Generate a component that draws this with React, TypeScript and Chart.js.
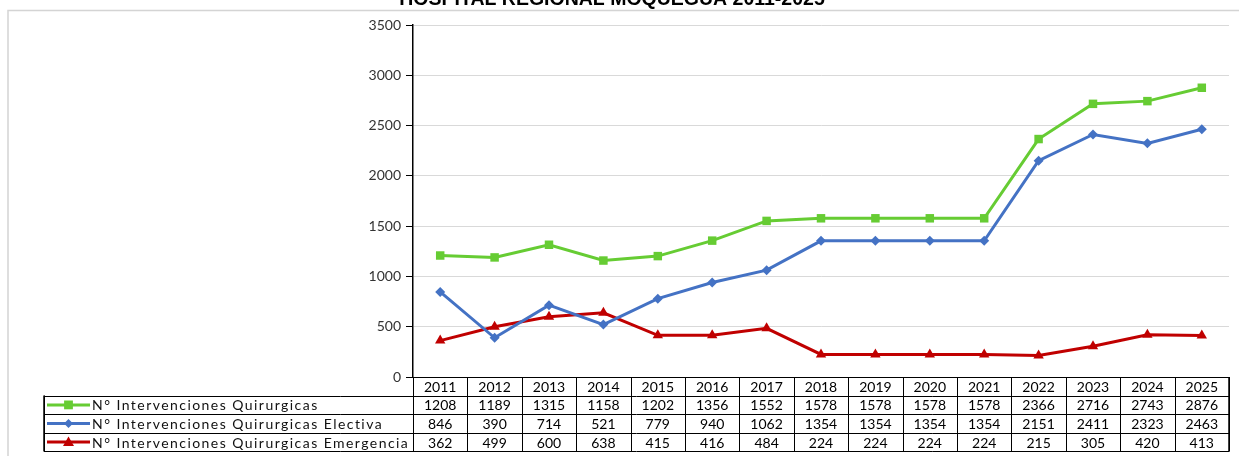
import React, { useEffect, useRef } from "react";
import { Chart, registerables } from "chart.js";

Chart.register(...registerables);

const years = ["2011","2012","2013","2014","2015","2016","2017","2018","2019","2020","2021","2022","2023","2024","2025"];
const totalSeries = [1208,1189,1315,1158,1202,1356,1552,1578,1578,1578,1578,2366,2716,2743,2876];
const electivaSeries = [846,390,714,521,779,940,1062,1354,1354,1354,1354,2151,2411,2323,2463];
const emergenciaSeries = [362,499,600,638,415,416,484,224,224,224,224,215,305,420,413];
const seriesNames = [
  "N° Intervenciones Quirurgicas",
  "N° Intervenciones Quirurgicas Electiva",
  "N° Intervenciones Quirurgicas Emergencia",
];
const yTicks = [0, 500, 1000, 1500, 2000, 2500, 3000, 3500];
const titleText = "HOSPITAL REGIONAL MOQUEGUA 2011-2025";

const GREEN = "#66cc33";
const BLUE = "#4472c4";
const RED = "#c00000";

function drawMarker(ctx: CanvasRenderingContext2D, style: string, x: number, y: number, r: number) {
  ctx.beginPath();
  if (style === "rect") {
    ctx.rect(x - r * 0.8, y - r * 0.8, r * 1.6, r * 1.6);
  } else if (style === "rectRot") {
    ctx.moveTo(x, y - r);
    ctx.lineTo(x + r, y);
    ctx.lineTo(x, y + r);
    ctx.lineTo(x - r, y);
    ctx.closePath();
  } else {
    ctx.moveTo(x, y - r);
    ctx.lineTo(x + r, y + r * 0.7);
    ctx.lineTo(x - r, y + r * 0.7);
    ctx.closePath();
  }
  ctx.fill();
}

const overlayPlugin = {
  id: "overlay",
  afterDraw(chart: any) {
    const ctx = chart.ctx;
    const area = chart.chartArea;
    const W = chart.width;
    ctx.save();
    // outer chart border
    ctx.strokeStyle = "#d4d4d4";
    ctx.lineWidth = 1.5;
    ctx.beginPath();
    ctx.moveTo(8, 456);
    ctx.lineTo(8, 10.5);
    ctx.lineTo(W, 10.5);
    ctx.stroke();
    // title
    ctx.fillStyle = "#000";
    ctx.font = "bold 19.5px 'Liberation Sans', Arial, sans-serif";
    ctx.textAlign = "center";
    ctx.textBaseline = "alphabetic";
    ctx.fillText(titleText, 612, 5);

    // data table
    const n = years.length;
    const colW = (area.right - area.left) / n;
    const top = area.bottom;
    const rowH = 18.6;
    const legendLeft = 44;
    const rows = [totalSeries, electivaSeries, emergenciaSeries];
    const colors = [GREEN, BLUE, RED];
    const styles = ["rect", "rectRot", "triangle"];
    const bottom = top + rowH * 4;
    ctx.strokeStyle = "#000";
    ctx.lineWidth = 1;
    ctx.beginPath();
    ctx.moveTo(area.left, top + 0.5);
    ctx.lineTo(area.right, top + 0.5);
    for (let r = 1; r <= 4; r++) {
      const y = Math.round(top + rowH * r) + 0.5;
      ctx.moveTo(legendLeft, y);
      ctx.lineTo(area.right, y);
    }
    for (let c = 0; c <= n; c++) {
      const x = Math.round(area.left + colW * c) + 0.5;
      ctx.moveTo(x, top);
      ctx.lineTo(x, bottom);
    }
    ctx.moveTo(legendLeft + 0.5, top + rowH);
    ctx.lineTo(legendLeft + 0.5, bottom);
    ctx.stroke();
    ctx.lineWidth = 1.5;
    ctx.beginPath();
    ctx.moveTo(area.right, top);
    ctx.lineTo(area.right, bottom);
    ctx.moveTo(legendLeft, top + rowH);
    ctx.lineTo(legendLeft, bottom);
    ctx.stroke();

    ctx.font = "14px Lato, sans-serif";
    ctx.fillStyle = "#000";
    ctx.textAlign = "center";
    ctx.textBaseline = "middle";
    for (let c = 0; c < n; c++) {
      const cx = area.left + colW * (c + 0.5);
      ctx.fillText(years[c], cx, top + rowH * 0.5 + 1);
      for (let r = 0; r < 3; r++) {
        ctx.fillText(String(rows[r][c]), cx, top + rowH * (r + 1.5) + 1);
      }
    }
    for (let r = 0; r < 3; r++) {
      const cy = top + rowH * (r + 1.5);
      ctx.strokeStyle = colors[r];
      ctx.lineWidth = 3;
      ctx.beginPath();
      ctx.moveTo(47, cy);
      ctx.lineTo(90, cy);
      ctx.stroke();
      ctx.fillStyle = colors[r];
      drawMarker(ctx, styles[r], 68.5, cy, r === 1 ? 4.5 : 5.5);
      ctx.fillStyle = "#111";
      ctx.font = "14px Lato, sans-serif";
      (ctx as any).letterSpacing = "1.45px";
      ctx.textAlign = "left";
      ctx.fillText(seriesNames[r], 92, cy + 1);
      (ctx as any).letterSpacing = "0px";
    }
    ctx.restore();
  },
};

export default function App() {
  const ref = useRef<HTMLCanvasElement | null>(null);
  useEffect(() => {
    if (!ref.current) return;
    const chart = new Chart(ref.current, {
      type: "line",
      data: {
        labels: years,
        datasets: [
          {
            label: seriesNames[0],
            data: totalSeries,
            borderColor: GREEN,
            backgroundColor: GREEN,
            borderWidth: 3,
            pointStyle: "rect",
            pointRadius: 6,
            pointBorderWidth: 0,
            tension: 0,
          },
          {
            label: seriesNames[1],
            data: electivaSeries,
            borderColor: BLUE,
            backgroundColor: BLUE,
            borderWidth: 3,
            pointStyle: "rectRot",
            pointRadius: 5,
            pointBorderWidth: 0,
            tension: 0,
          },
          {
            label: seriesNames[2],
            data: emergenciaSeries,
            borderColor: RED,
            backgroundColor: RED,
            borderWidth: 3,
            pointStyle: "triangle",
            pointRadius: 6,
            pointBorderWidth: 0,
            tension: 0,
          },
        ],
      },
      options: {
        responsive: false,
        animation: false,
        layout: { padding: { left: 0, right: 10, top: 25, bottom: 79 } },
        plugins: { legend: { display: false }, title: { display: false }, tooltip: { enabled: false } },
        scales: {
          x: { type: "category", offset: true, display: false, grid: { offset: true } },
          y: {
            min: 0,
            max: 3500,
            afterBuildTicks: (scale: any) => {
              scale.ticks = yTicks.map((v) => ({ value: v }));
            },
            afterFit: (scale: any) => {
              scale.width = 413;
            },
            border: { display: true, color: "#000", width: 1.5 },
            grid: {
              color: "#d9d9d9",
              lineWidth: 1,
              tickColor: "#000",
              tickLength: 7,
              drawTicks: true,
            },
            ticks: {
              padding: 5,
              color: "#333",
              font: { family: "Lato, sans-serif", size: 14 },
              callback: (v: any) => String(v),
            },
          },
        },
      },
      plugins: [overlayPlugin],
    });
    return () => chart.destroy();
  }, []);
  return (
    <div style={{ position: "fixed", left: 0, top: 0, width: 1239, height: 456, background: "#fff" }}>
      <canvas ref={ref} width={1239} height={456} style={{ display: "block", width: 1239, height: 456 }} />
    </div>
  );
}
